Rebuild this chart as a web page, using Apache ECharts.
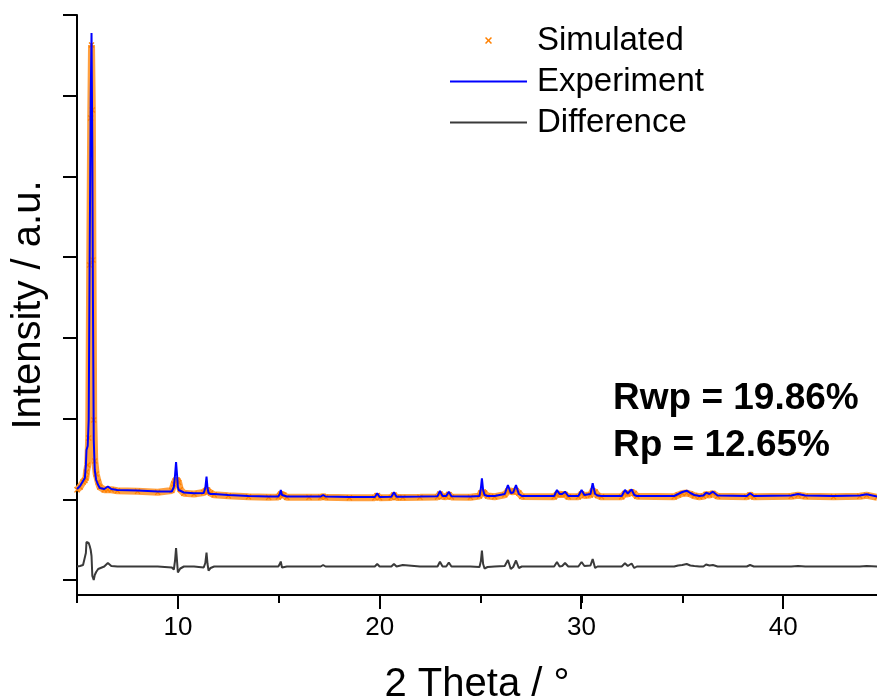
<!DOCTYPE html>
<html><head><meta charset="utf-8">
<script src="https://cdn.jsdelivr.net/npm/echarts@6/dist/echarts.min.js"></script>
<style>html,body{margin:0;padding:0;background:#fff}#chart{width:877px;height:697px}</style>
</head><body><div id="chart"></div>
<script>
// 2 Theta positions (degrees)
const twoTheta = [5.00,5.15,5.30,5.39,5.44,5.47,5.53,5.58,5.63,5.68,5.72,5.76,5.79,5.83,5.88,5.95,6.05,6.13,6.35,6.53,6.70,7.00,8.00,9.00,
  9.70,9.80,9.86,9.91,9.96,10.00,10.04,10.12,10.30,10.80,
  11.28,11.36,11.42,11.47,11.52,11.62,11.80,12.50,13.50,14.50,
  14.98,15.05,15.10,15.16,15.25,15.40,16.50,17.08,17.20,17.32,18.50,
  19.76,19.88,20.00,20.58,20.71,20.84,21.15,22.00,22.87,22.99,23.12,23.30,23.43,23.56,24.50,
  24.95,25.02,25.07,25.13,25.20,25.35,25.70,26.20,26.36,26.50,26.62,26.76,26.90,27.05,
  28.65,28.79,28.92,29.05,29.19,29.35,29.85,30.01,30.15,30.45,30.56,30.68,30.80,31.00,
  32.00,32.16,32.30,32.49,32.62,32.75,34.60,34.80,35.00,35.22,35.40,35.60,35.85,
  36.05,36.18,36.35,36.52,36.75,38.20,38.36,38.55,40.40,40.74,41.10,42.50,43.80,44.14,44.66];
// intensities (a.u.)
const experiment = [910,940,990,1020,1150,1300,1340,1600,3300,4800,5470,4300,2800,1400,1100,1000,950,920,910,935,910,900,895,885,
  885,930,1050,1180,1050,930,900,885,875,868,
  870,920,1035,920,870,860,860,850,840,835,
  835,860,900,850,835,835,835,835,850,835,830,
  830,867,830,832,877,833,833,835,838,890,840,840,883,838,835,
  840,920,1017,900,850,840,840,860,950,870,875,950,860,840,
  840,900,860,860,883,840,840,900,850,860,967,860,845,840,
  840,900,865,907,850,840,840,860,880,893,870,850,840,
  845,873,860,883,845,840,867,840,845,860,845,840,845,857,835];
const simulated = [902,930,980,995,1020,1080,1150,1420,3150,4620,5350,4700,3200,1600,1190,1060,980,930,902,902,902,892,887,877,
  895,960,990,1000,1000,990,975,905,867,860,
  875,890,900,900,885,870,852,842,832,827,
  830,845,860,855,848,827,827,827,835,827,822,
  822,845,822,824,850,825,825,827,830,860,835,832,855,830,827,
  840,870,870,880,870,840,832,852,890,890,880,895,870,835,
  832,855,858,856,855,832,832,860,845,850,890,880,845,832,
  832,865,860,880,865,838,832,850,865,870,860,842,832,
  837,855,850,865,837,832,850,832,837,848,837,832,837,847,827];
const difference = [135,140,150,170,270,380,380,370,340,300,240,40,20,0,50,80,110,120,135,170,140,135,135,135,
  125,105,195,320,185,75,60,115,135,135,
  125,170,275,160,95,120,135,135,135,135,
  135,160,185,125,120,135,135,135,150,135,135,
  135,160,135,135,160,135,150,135,135,183,135,135,175,135,135,
  130,190,293,160,115,130,135,140,200,110,130,195,120,135,
  135,180,135,140,170,135,135,180,140,145,210,120,135,135,
  135,167,140,165,120,135,135,145,150,160,145,140,135,
  135,155,145,150,135,135,150,135,135,140,135,135,135,140,135];
const xMajorTicks = [10,20,30,40];
const yTickValues = [0,807,1614,2421,3228,4036,4843,5650];
const seriesNames = ['Simulated','Experiment','Difference'];
const fitStats = ['Rwp = 19.86%','Rp = 12.65%'];

const FONT = '"Liberation Sans", Arial, sans-serif';
const Y_MIN = -150;
const pairs = arr => twoTheta.map((t, i) => [t, arr[i]]);
const xPath = 'path://M0,0.15 L0.15,0 L0.5,0.35 L0.85,0 L1,0.15 L0.65,0.5 L1,0.85 L0.85,1 L0.5,0.65 L0.15,1 L0,0.85 L0.35,0.5 Z';
const statTexts = [
  {id: 'rwp', type: 'text', left: 613, top: 380, style: {text: fitStats[0], font: 'bold 37px ' + FONT, fill: '#000'}},
  {id: 'rp', type: 'text', left: 613, top: 427, style: {text: fitStats[1], font: 'bold 37px ' + FONT, fill: '#000'}}
];

const chart = echarts.init(document.getElementById('chart'), null, {renderer: 'canvas'});
chart.setOption({
  backgroundColor: '#ffffff',
  animation: false,
  grid: {left: 77, right: -7, top: 15, bottom: 102, containLabel: false, outerBoundsMode: 'none'},
  legend: [
    {data: [{name: seriesNames[0], icon: xPath}], orient: 'vertical', left: 480, top: 19,
     itemWidth: 77, itemHeight: 7, selectedMode: false,
     textStyle: {fontSize: 33, color: '#000', fontFamily: FONT, padding: [0, 0, 0, 5]}},
    {data: [{name: seriesNames[1], icon: 'rect'}, {name: seriesNames[2], icon: 'rect'}], orient: 'vertical', left: 445, top: 60,
     itemWidth: 77, itemHeight: 2, itemGap: 8, selectedMode: false,
     textStyle: {fontSize: 33, color: '#000', fontFamily: FONT, padding: [0, 0, 0, 5]}}
  ],
  xAxis: {
    type: 'value', min: 5, max: 45, interval: 5, position: 'bottom',
    name: '2 Theta / °', nameLocation: 'middle', nameGap: 70,
    nameTextStyle: {fontSize: 40, color: '#000', fontFamily: FONT, padding: [0, 7, 0, 0]},
    axisLine: {show: true, onZero: false, lineStyle: {color: '#000', width: 2}},
    axisTick: {show: true, inside: false, length: 8, lineStyle: {color: '#000', width: 2}},
    axisLabel: {show: true, fontSize: 26, color: '#000', fontFamily: FONT, margin: 20,
      formatter: v => (xMajorTicks.indexOf(v) >= 0 ? String(v) : '')},
    splitLine: {show: false}
  },
  yAxis: {
    type: 'value', min: Y_MIN, max: 5650,
    name: 'Intensity / a.u.', nameLocation: 'middle', nameGap: 28, nameRotate: 90,
    nameTextStyle: {fontSize: 40, color: '#000', fontFamily: FONT},
    axisLine: {show: true, onZero: false, lineStyle: {color: '#000', width: 2}},
    axisTick: {show: true, inside: false, length: 14, lineStyle: {color: '#000', width: 2}, customValues: yTickValues},
    axisLabel: {show: false},
    splitLine: {show: false}
  },
  series: [
    {name: seriesNames[0], type: 'line', data: pairs(simulated), color: '#ff8000',
     symbol: xPath, symbolSize: 6, showSymbol: true, itemStyle: {color: '#ff8000'},
     lineStyle: {color: '#ffa040', width: 7}, z: 2},
    {name: seriesNames[1], type: 'line', data: pairs(experiment), color: '#0000ff',
     symbol: 'none', lineStyle: {color: '#0000ff', width: 2}, z: 3},
    {name: seriesNames[2], type: 'line', data: pairs(difference), color: '#3a3a3a',
     symbol: 'none', lineStyle: {color: '#3a3a3a', width: 2}, z: 3}
  ],
  graphic: statTexts
});

// longer major ticks at the labelled positions, placed through the axis scale
const axisY = chart.convertToPixel({yAxisIndex: 0}, Y_MIN);
const majorTickMarks = xMajorTicks.map((v, i) => {
  const px = Math.round(chart.convertToPixel({xAxisIndex: 0}, v));
  return {id: 'majorTick' + i, type: 'line', silent: true, z: 10,
    shape: {x1: px, y1: axisY, x2: px, y2: axisY + 14},
    style: {stroke: '#000', lineWidth: 2}};
});
chart.setOption({graphic: statTexts.concat(majorTickMarks)});
</script></body></html>
